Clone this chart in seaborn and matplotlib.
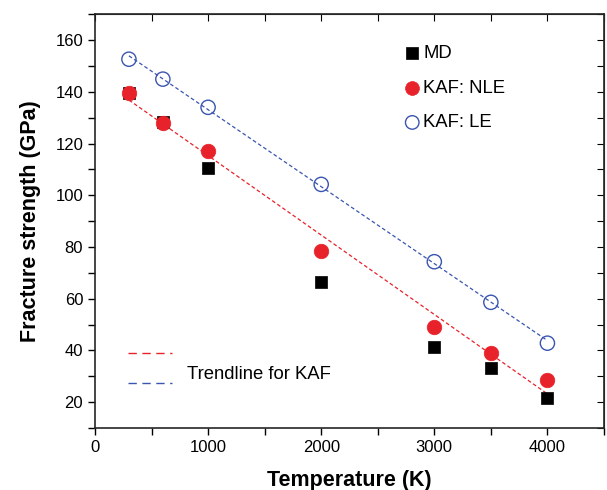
import matplotlib
matplotlib.use("Agg")
import matplotlib.pyplot as plt
import seaborn as sns
import pandas as pd
import numpy as np
from matplotlib.lines import Line2D
from matplotlib.ticker import MultipleLocator

# data
temperature = [300, 600, 1000, 2000, 3000, 3500, 4000]
md = [139.5, 128.5, 110.5, 66.5, 41.5, 33.2, 21.6]
kaf_nle = [139.5, 127.8, 117.3, 78.6, 49.1, 39.1, 28.6]
kaf_le = [152.6, 144.9, 134.0, 104.2, 74.3, 58.6, 42.8]

df = pd.DataFrame({'T': temperature, 'MD': md, 'NLE': kaf_nle, 'LE': kaf_le})

sns.set_style('ticks')
plt.rcParams['font.family'] = ['Liberation Sans', 'DejaVu Sans']
plt.rcParams['text.color'] = 'black'
plt.rcParams['axes.labelcolor'] = 'black'
plt.rcParams['xtick.color'] = 'black'
plt.rcParams['ytick.color'] = 'black'

fig = plt.figure(figsize=(6.07, 4.90), dpi=100)
ax = fig.add_axes([0.1565, 0.1265, 0.8385, 0.8445])

red = '#e8222a'
blue = '#3a55b0'

# trendlines (linear fit of the KAF data)
sns.regplot(x='T', y='NLE', data=df, scatter=False, ci=None, ax=ax,
            line_kws=dict(color=red, lw=0.9, ls=(0, (3, 2))))
sns.regplot(x='T', y='LE', data=df, scatter=False, ci=None, ax=ax,
            line_kws=dict(color=blue, lw=0.9, ls=(0, (3, 2))))

sns.scatterplot(x='T', y='MD', data=df, marker='s', s=80, color='black',
                edgecolor='black', linewidth=0.5, ax=ax, label='MD', zorder=3)
sns.scatterplot(x='T', y='NLE', data=df, marker='o', s=110, color=red,
                edgecolor=red, linewidth=0.5, ax=ax, label='KAF: NLE', zorder=4)
sns.scatterplot(x='T', y='LE', data=df, marker='o', s=105, facecolor='none',
                edgecolor=blue, linewidth=1.0, ax=ax, label='KAF: LE', zorder=4)

ax.set_xlim(0, 4500)
ax.set_ylim(10, 170)
ax.xaxis.set_major_locator(MultipleLocator(1000))
ax.xaxis.set_minor_locator(MultipleLocator(500))
ax.set_yticks([20, 40, 60, 80, 100, 120, 140, 160])
ax.yaxis.set_minor_locator(MultipleLocator(10))

ax.tick_params(axis='both', which='both', labelsize=12, width=1, length=5,
               direction='out', top=False, right=False)

# inward ticks on top and right
sec_x = ax.secondary_xaxis('top')
sec_x.xaxis.set_major_locator(MultipleLocator(500))
sec_x.tick_params(direction='in', length=5, labeltop=False)
sec_y = ax.secondary_yaxis('right')
sec_y.yaxis.set_major_locator(MultipleLocator(10))
sec_y.tick_params(direction='in', length=5, labelright=False)

for sp in ax.spines.values():
    sp.set_linewidth(1.2)
    sp.set_visible(True)

ax.set_xlabel('Temperature (K)', fontsize=15.5, fontweight='bold', labelpad=11)
ax.set_ylabel('Fracture strength (GPa)', fontsize=15.5, fontweight='bold',
              labelpad=10)

leg = ax.legend(loc='upper left', bbox_to_anchor=(0.587, 0.943), frameon=False,
                fontsize=13.3, handletextpad=0.0, labelspacing=0.95,
                handlelength=1.2, markerscale=0.95, borderaxespad=0)
ax.add_artist(leg)

trend_handles = [Line2D([], [], color=red, lw=1.0, ls=(0, (6, 4))),
                 Line2D([], [], color=blue, lw=1.0, ls=(0, (6, 4)))]
leg2 = ax.legend(trend_handles, ['', ''], loc='lower left',
                 bbox_to_anchor=(0.05, 0.066), frameon=False, handlelength=2.4,
                 labelspacing=0.71, fontsize=13.3, borderaxespad=0)
ax.text(0.18, 0.13, 'Trendline for KAF', transform=ax.transAxes,
        fontsize=13.3, va='center', ha='left')

fig.savefig('out.png', dpi=100)
